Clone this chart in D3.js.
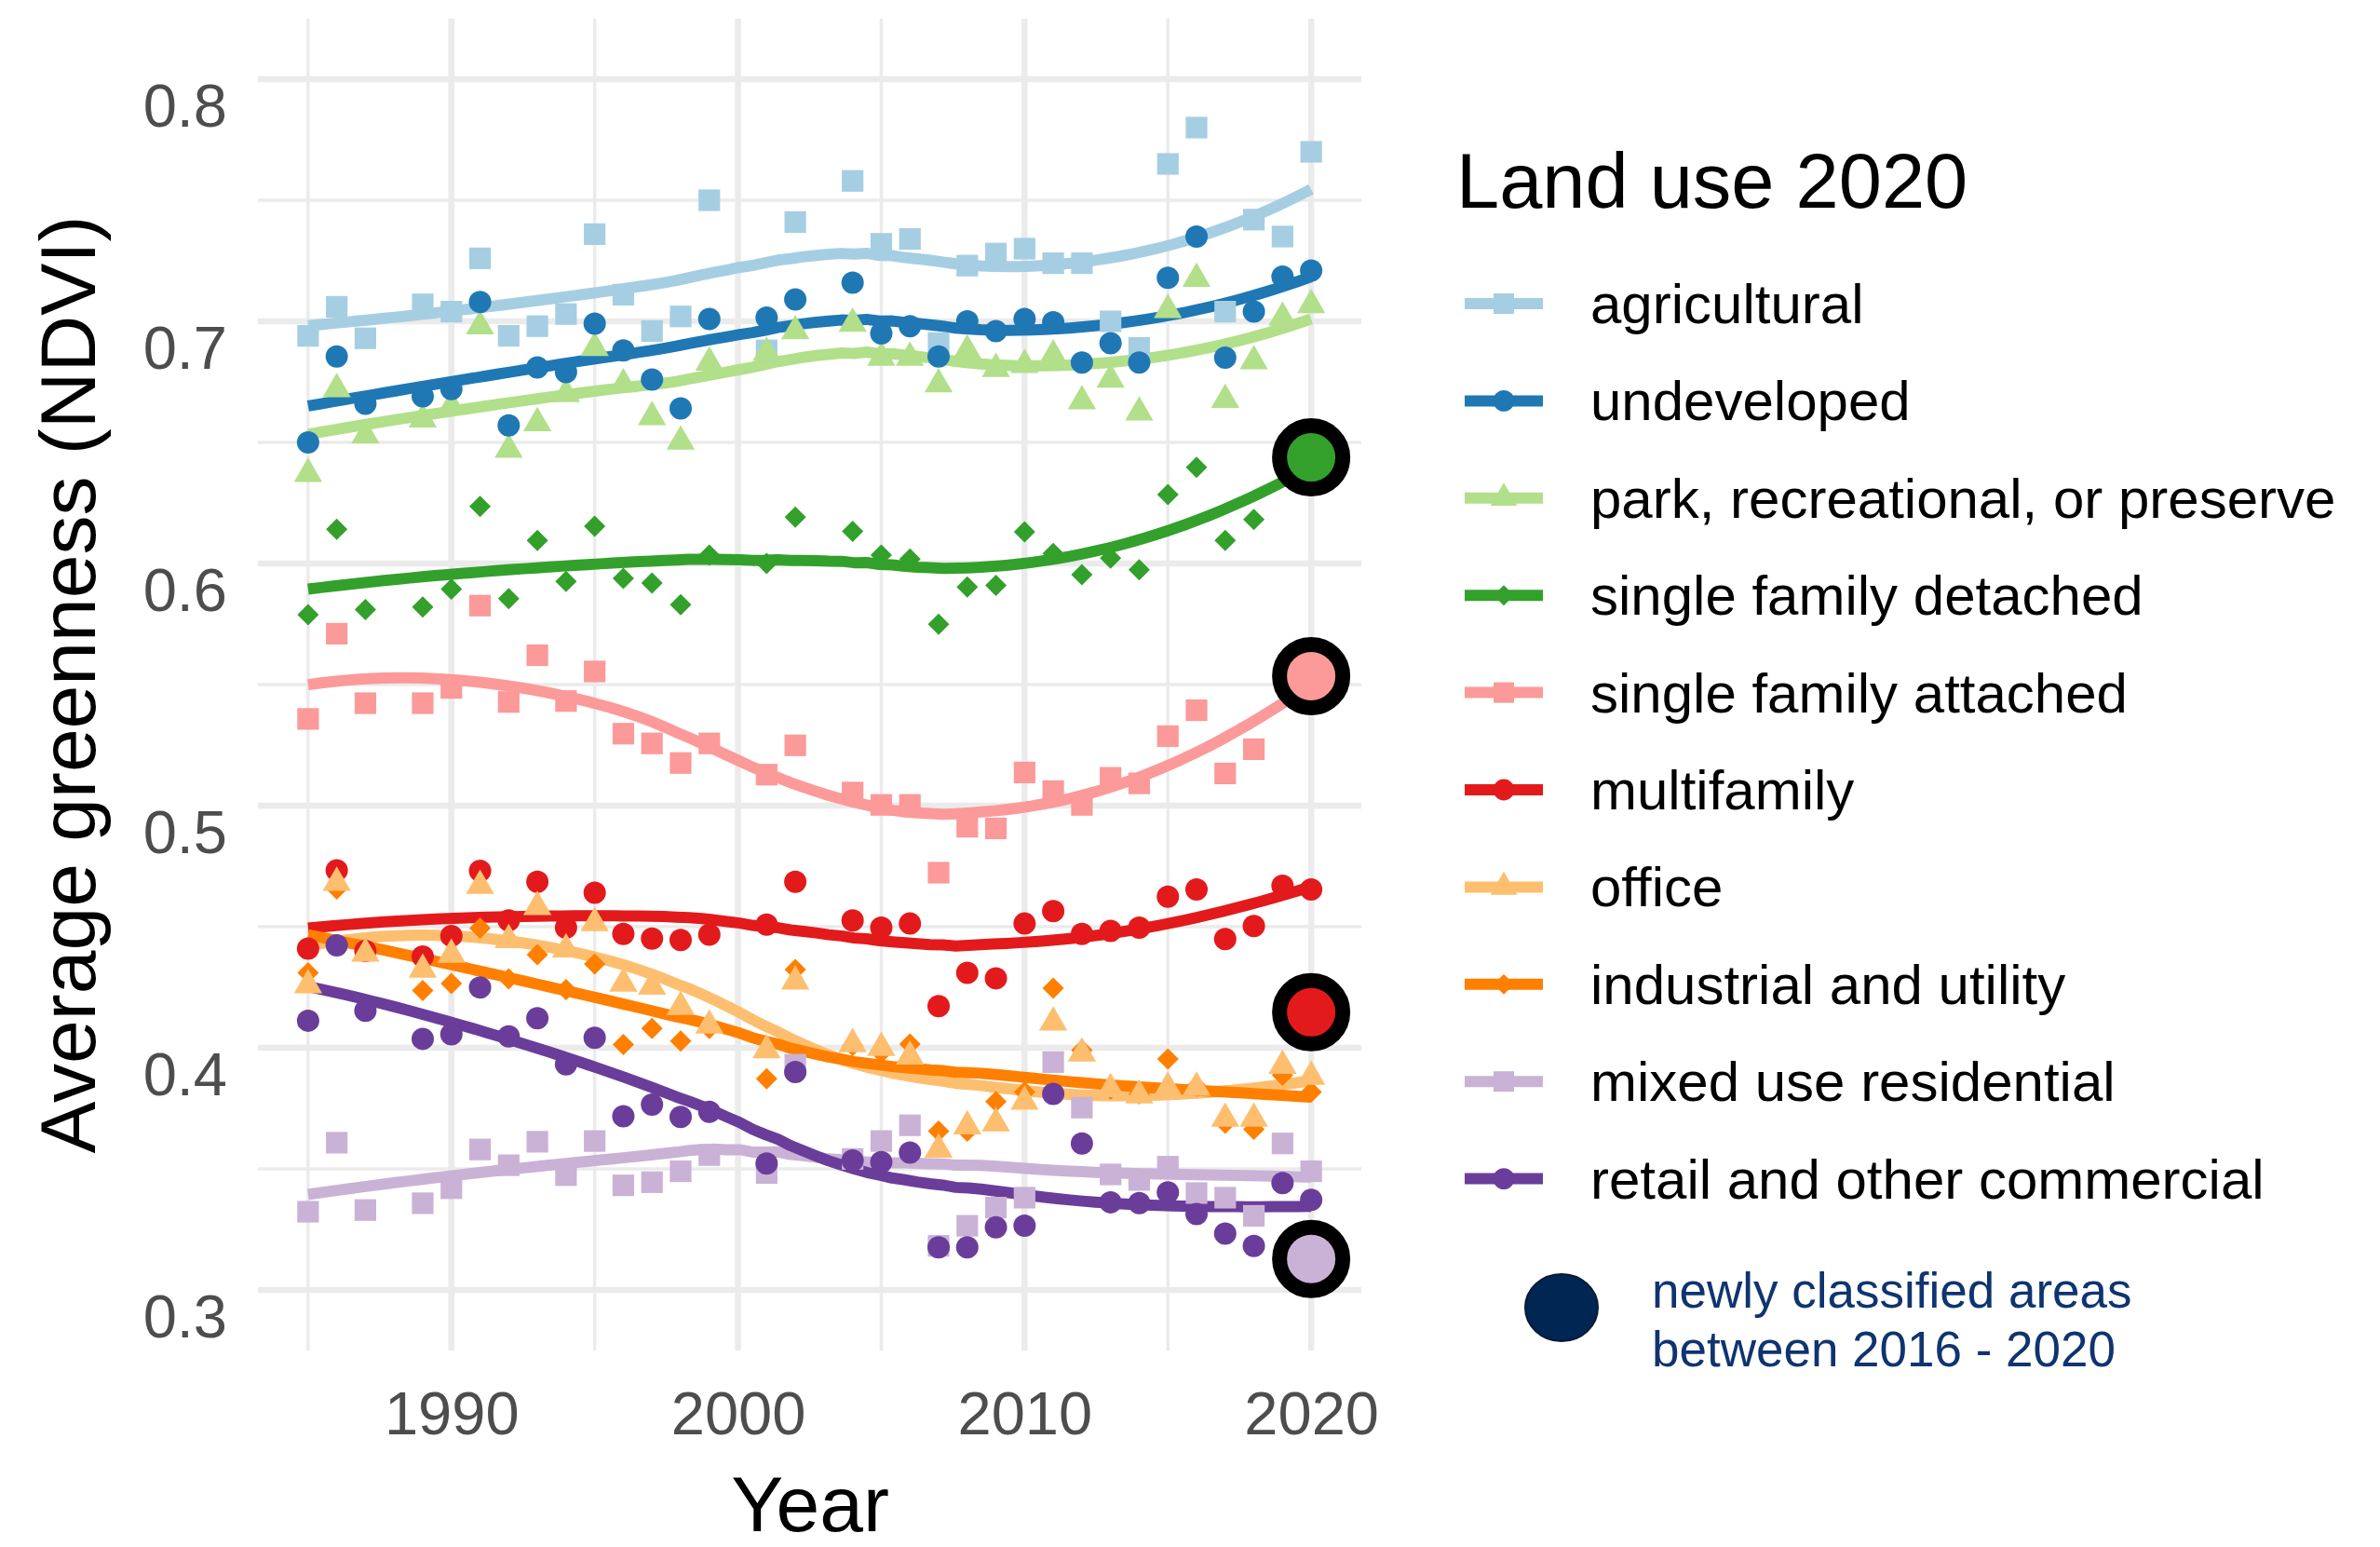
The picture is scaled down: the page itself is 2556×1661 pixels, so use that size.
<!DOCTYPE html>
<html><head><meta charset="utf-8">
<script src="https://cdn.jsdelivr.net/npm/d3@7"></script>
<style>body{margin:0;background:#fff} svg{display:block}</style>
</head><body>
<svg id="chart" width="2556" height="1661"></svg>
<script>
// ---------------- DATA ----------------
const years = [1985,1986,1987,1989,1990,1991,1992,1993,1994,1995,1996,1997,1998,1999,2001,2002,2004,2005,2006,2007,2008,2009,2010,2011,2012,2013,2014,2015,2016,2017,2018,2019,2020];

const categories = ["agricultural","undeveloped","park, recreational, or preserve","single family detached","single family attached","multifamily","office","industrial and utility","mixed use residential","retail and other commercial"];

const agricultural = [.694,.706,.693,.707,.704,.726,.694,.698,.703,.736,.711,.696,.702,.750,.688,.741,.758,.732,.734,.691,.723,.728,.730,.724,.724,.700,.689,.765,.780,.704,.742,.735,.770];
const undeveloped  = [.650,.6855,.666,.669,.672,.708,.657,.681,.679,.699,.688,.676,.664,.701,.7015,.709,.716,.695,.698,.6855,.700,.696,.701,.6996,.683,.691,.683,.718,.735,.685,.704,.7185,.721];
const park         = [.637,.672,.653,.6595,.665,.698,.647,.658,.670,.689,.674,.6605,.6504,.683,.687,.696,.699,.685,.685,.674,.688,.6804,.682,.686,.667,.676,.6624,.7047,.7176,.6676,.6836,.7015,.7067];
const sfDetached   = [.5788,.6141,.581,.582,.5894,.6236,.5855,.6095,.5926,.6154,.5938,.5919,.583,.6035,.600,.6191,.6133,.6035,.6018,.5749,.5903,.591,.6131,.6041,.5954,.6022,.5974,.6285,.6397,.6095,.6182,null,.644];
const sfAttached   = [.5358,.571,.5423,.5423,.5486,.5826,.5428,.5621,.5432,.5554,.5297,.5257,.5176,.5257,.5128,.5249,.5054,.5003,.5003,.4723,.4913,.4906,.5137,.506,.5003,.5115,.5092,.5287,.5394,.5133,.5233,null,.5535];
const multifamily  = [.441,.4733,.440,.4377,.4462,.4731,.4526,.4686,.4496,.464,.447,.4451,.4445,.4467,.4509,.4686,.4526,.4496,.4513,.4172,.431,.4287,.4513,.4564,.447,.4483,.4496,.4624,.4654,.4449,.4503,.4669,.4654];
const office       = [.4259,.4682,.4389,.4323,.4385,.4669,.4445,.4582,.4407,.4515,.4265,.4253,.4169,.4092,.399,.4274,.4015,.400,.3964,.358,.3676,.3688,.3778,.4105,.3977,.383,.3804,.3836,.3836,.3708,.3708,.3926,.3881];
const industrial   = [.431,.4656,.441,.4237,.4265,.4494,.4285,.4385,.424,.4346,.4013,.408,.4028,.408,.3872,.4323,.401,.398,.4015,.3656,.3656,.3778,.3817,.4246,.399,.383,.381,.3954,.384,.3688,.3663,.3887,.3817];
const mixedUse     = [.3323,.3608,.333,.3358,.342,.358,.3515,.3612,.3474,.3615,.3432,.3445,.349,.3557,.3483,.393,.3541,.3615,.368,.3182,.3265,.334,.3381,.3941,.3753,.3477,.3454,.3509,.340,.3381,.3306,.3605,.349];
const retail       = [.4112,.4423,.4153,.4037,.4056,.4249,.4047,.4122,.3932,.4041,.3717,.3765,.3714,.3736,.3522,.390,.3535,.3528,.3567,.3176,.3176,.3259,.3265,.381,.3605,.3362,.3359,.3403,.3313,.3233,.3182,.3441,.3372];

const seriesValues = [agricultural, undeveloped, park, sfDetached, sfAttached, multifamily, office, industrial, mixedUse, retail];

// newly classified areas between 2016 - 2020 (shown at 2020)
const newCategories = ["single family detached","single family attached","multifamily","mixed use residential"];
const newValues = [0.6438, 0.5535, 0.4147, 0.3128];
const newYear = 2020;

const xMajorTicks = [1990, 2000, 2010, 2020];
const xMinorTicks = [1985, 1995, 2005, 2015];
const yMajorTicks = [0.3, 0.4, 0.5, 0.6, 0.7, 0.8];
const yMinorTicks = [0.35, 0.45, 0.55, 0.65, 0.75];

// ---------------- STYLE ----------------
const colors = ["#a6cee3","#1f78b4","#b2df8a","#33a02c","#fb9a99","#e31a1c","#fdbf6f","#ff7f00","#cab2d6","#6a3d9a"];
const shapes = ["square","circle","triangle","diamond","square","circle","triangle","diamond","square","circle"];
const FONT = "'Liberation Sans', Arial, Helvetica, sans-serif";

const svg = d3.select("#chart");
const x = d3.scaleLinear().domain([1983.25, 2021.75]).range([277, 1462]);
const y = d3.scaleLinear().domain([0.275, 0.825]).range([1450, 20]);

function symbolPath(shape, s) {
  const p = d3.path();
  if (shape === "square") {
    const h = 11.6 * s; p.rect(-h, -h, 2*h, 2*h);
  } else if (shape === "circle") {
    const r = 12 * s; p.moveTo(r, 0); p.arc(0, 0, r, 0, 2*Math.PI);
  } else if (shape === "triangle") {
    const r = 17.5 * s, xc = r*Math.sqrt(3)/2;
    p.moveTo(0, -r); p.lineTo(xc, r/2); p.lineTo(-xc, r/2); p.closePath();
  } else if (shape === "diamond") {
    const a = 11.5 * s;
    p.moveTo(0, -a); p.lineTo(a, 0); p.lineTo(0, a); p.lineTo(-a, 0); p.closePath();
  }
  return p.toString();
}

// ---------------- GRID ----------------
const grid = svg.append("g");
grid.selectAll(".vmin").data(xMinorTicks).join("line")
  .attr("x1", d => x(d)).attr("x2", d => x(d)).attr("y1", 20).attr("y2", 1450)
  .attr("stroke", "#ebebeb").attr("stroke-width", 3.5);
grid.selectAll(".hmin").data(yMinorTicks).join("line")
  .attr("x1", 277).attr("x2", 1462).attr("y1", d => y(d)).attr("y2", d => y(d))
  .attr("stroke", "#ebebeb").attr("stroke-width", 3.5);
grid.selectAll(".vmaj").data(xMajorTicks).join("line")
  .attr("x1", d => x(d)).attr("x2", d => x(d)).attr("y1", 20).attr("y2", 1450)
  .attr("stroke", "#ebebeb").attr("stroke-width", 6.5);
grid.selectAll(".hmaj").data(yMajorTicks).join("line")
  .attr("x1", 277).attr("x2", 1462).attr("y1", d => y(d)).attr("y2", d => y(d))
  .attr("stroke", "#ebebeb").attr("stroke-width", 6.5);

// ---------------- AXES ----------------
const xAxis = svg.append("g").attr("transform", "translate(0,1450)")
  .call(d3.axisBottom(x).tickValues(xMajorTicks).tickFormat(d3.format("d")).tickSize(0).tickPadding(44));
const yAxis = svg.append("g").attr("transform", "translate(277,0)")
  .call(d3.axisLeft(y).tickValues(yMajorTicks).tickFormat(d3.format(".1f")).tickSize(0).tickPadding(33));
[xAxis, yAxis].forEach(a => {
  a.select(".domain").remove();
  a.selectAll("text").attr("font-family", FONT).attr("font-size", 65).attr("fill", "#4d4d4d");
});
// y tick labels sit just below their gridlines (top-aligned) as in the original
yAxis.selectAll("text").attr("dy", null).attr("y", 50);

svg.append("text").attr("x", 870).attr("y", 1644).attr("text-anchor", "middle")
  .attr("font-family", FONT).attr("font-size", 84).attr("fill", "#000").text("Year");
svg.append("text").attr("transform", "translate(102,735) rotate(-90)").attr("text-anchor", "middle")
  .attr("font-family", FONT).attr("font-size", 84).attr("fill", "#000").text("Average greenness (NDVI)");

// ---------------- LOESS SMOOTH ----------------
function loessFit(xs, ys, span) {
  const n = xs.length, q = Math.floor(n * span);
  return function(x0) {
    const d = xs.map(v => Math.abs(v - x0));
    const h = [...d].sort((a, b) => a - b)[q - 1] * 1.000001;
    let S = [[0,0,0],[0,0,0],[0,0,0]], B = [0,0,0];
    for (let i = 0; i < n; i++) {
      const u = d[i] / h; if (u >= 1) continue;
      const w = Math.pow(1 - u*u*u, 3);
      const t = xs[i] - x0, basis = [1, t, t*t];
      for (let a = 0; a < 3; a++) {
        B[a] += w * basis[a] * ys[i];
        for (let b = 0; b < 3; b++) S[a][b] += w * basis[a] * basis[b];
      }
    }
    const M = S.map((r, i) => [...r, B[i]]);
    for (let c = 0; c < 3; c++) {
      let piv = c; for (let r = c+1; r < 3; r++) if (Math.abs(M[r][c]) > Math.abs(M[piv][c])) piv = r;
      [M[c], M[piv]] = [M[piv], M[c]];
      for (let r = c+1; r < 3; r++) { const f = M[r][c] / M[c][c]; for (let k = c; k < 4; k++) M[r][k] -= f * M[c][k]; }
    }
    const sol = [0,0,0];
    for (let r = 2; r >= 0; r--) { let s = M[r][3]; for (let k = r+1; k < 3; k++) s -= M[r][k]*sol[k]; sol[r] = s / M[r][r]; }
    return sol[0];
  };
}

const lineGen = d3.line().x(d => x(d[0])).y(d => y(d[1])).curve(d3.curveLinear);
const linesG = svg.append("g");
seriesValues.forEach((vals, i) => {
  const pts = years.map((yr, k) => [yr, vals[k]]).filter(p => p[1] != null);
  const xs = pts.map(p => p[0]), ys = pts.map(p => p[1]);
  const f = loessFit(xs, ys, 0.75);
  const x0 = d3.min(xs), x1 = d3.max(xs);
  const grid80 = d3.range(80).map(k => x0 + (x1 - x0) * k / 79);
  linesG.append("path").datum(grid80.map(g => [g, f(g)]))
    .attr("d", lineGen).attr("fill", "none").attr("stroke", colors[i])
    .attr("stroke-width", 12).attr("stroke-linejoin", "round").attr("stroke-linecap", "butt");
});

// ---------------- POINTS ----------------
const pointsG = svg.append("g");
const drawOrder = d3.range(categories.length).sort((a, b) => d3.ascending(categories[a], categories[b]));
const pointData = [];
years.forEach((yr, k) => {
  drawOrder.forEach(i => { const v = seriesValues[i][k]; if (v != null) pointData.push({yr, v, i}); });
});
pointsG.selectAll("path").data(pointData).join("path")
  .attr("transform", d => `translate(${x(d.yr)},${y(d.v)})`)
  .attr("d", d => symbolPath(shapes[d.i], 1))
  .attr("fill", d => colors[d.i]);

// newly classified big circles
const bigG = svg.append("g");
bigG.selectAll("circle").data(newCategories).join("circle")
  .attr("cx", x(newYear)).attr("cy", (d, k) => y(newValues[k])).attr("r", 34)
  .attr("fill", d => colors[categories.indexOf(d)]).attr("stroke", "#000").attr("stroke-width", 16);

// ---------------- LEGEND ----------------
const leg = svg.append("g");
leg.append("text").attr("x", 1564).attr("y", 223).attr("font-family", FONT).attr("font-size", 83)
  .attr("fill", "#000").text("Land use 2020");
categories.forEach((c, i) => {
  const cy = 326 + i * 104.4;
  const row = leg.append("g");
  row.append("line").attr("x1", 1573).attr("x2", 1657).attr("y1", cy).attr("y2", cy)
    .attr("stroke", colors[i]).attr("stroke-width", 12);
  row.append("path").attr("transform", `translate(1615,${cy})`).attr("d", symbolPath(shapes[i], 0.95)).attr("fill", colors[i]);
  row.append("text").attr("x", 1708).attr("y", cy + 21).attr("font-family", FONT).attr("font-size", 60)
    .attr("fill", "#000").text(c);
});
leg.append("ellipse").attr("cx", 1677).attr("cy", 1404).attr("rx", 39).attr("ry", 36)
  .attr("fill", "#002654").attr("stroke", "#0a1a33").attr("stroke-width", 2);
leg.append("text").attr("x", 1774).attr("y", 1404).attr("font-family", FONT).attr("font-size", 53)
  .attr("fill", "#0f3470").text("newly classified areas");
leg.append("text").attr("x", 1774).attr("y", 1467).attr("font-family", FONT).attr("font-size", 53)
  .attr("fill", "#0f3470").text("between 2016 - 2020");
</script>
</body></html>
